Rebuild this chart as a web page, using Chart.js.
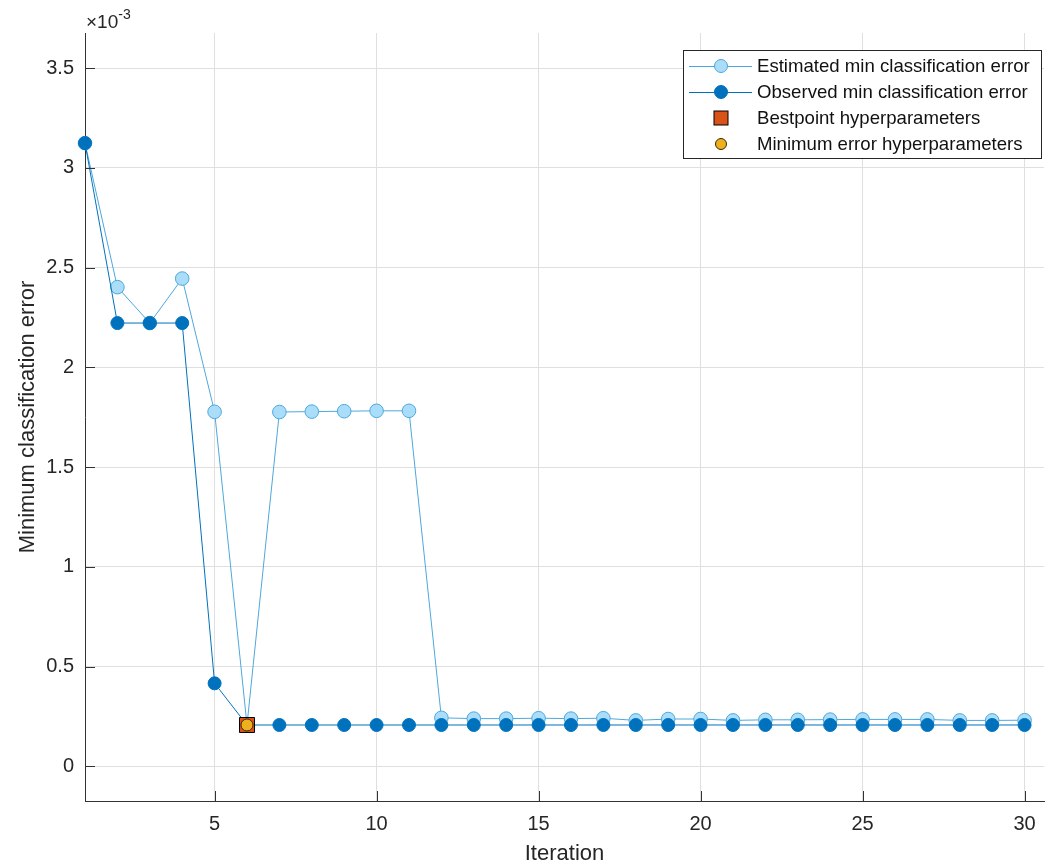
<!DOCTYPE html>
<html>
<head>
<meta charset="utf-8">
<script src="https://cdn.jsdelivr.net/npm/chart.js@4/dist/chart.umd.min.js"></script>
<style>
  html, body { margin: 0; padding: 0; background: #fff; }
</style>
</head>
<body>
<div style="width:1056px;height:868px"><canvas id="myChart" width="1056" height="868"></canvas></div>
<script>
// values in units of 1e-3
var iterations = [1, 2, 3, 4, 5, 6, 7, 8, 9, 10, 11, 12, 13, 14, 15, 16, 17, 18, 19, 20, 21, 22, 23, 24, 25, 26, 27, 28, 29, 30];
var estimatedError = [3.124, 2.402, 2.222, 2.445, 1.777, 0.207, 1.776, 1.778, 1.780, 1.782, 1.782, 0.243, 0.239, 0.239, 0.241, 0.239, 0.241, 0.230, 0.237, 0.237, 0.230, 0.233, 0.233, 0.234, 0.235, 0.235, 0.235, 0.230, 0.230, 0.231];
var observedError = [3.124, 2.222, 2.222, 2.222, 0.416, 0.207, 0.207, 0.207, 0.207, 0.207, 0.207, 0.207, 0.207, 0.207, 0.207, 0.207, 0.207, 0.207, 0.207, 0.207, 0.207, 0.207, 0.207, 0.207, 0.207, 0.207, 0.207, 0.207, 0.207, 0.207];
var bestpointIter = [6];
var bestpointError = [0.207];
var minErrorIter = [6];
var minErrorValue = [0.207];
var xTicks = [5, 10, 15, 20, 25, 30];
var yTicks = [0, 0.5, 1, 1.5, 2, 2.5, 3, 3.5];
var legendLabels = ['Estimated min classification error', 'Observed min classification error', 'Bestpoint hyperparameters', 'Minimum error hyperparameters'];

var FONT = "Arial, 'Liberation Sans', Helvetica, sans-serif";
var axisColor = 'rgb(50,50,50)';
var gridColor = 'rgb(223,223,223)';
var estLine = 'rgb(77,168,220)';
var estFill = 'rgb(170,221,250)';
var obsColor = 'rgb(0,114,189)';
var bestFill = 'rgb(217,83,25)';
var minFill = 'rgb(237,177,32)';

function toXY(xs, ys) {
  return xs.map(function (x, i) { return { x: x, y: ys[i] }; });
}

var extras = {
  id: 'extras',
  afterDraw: function (chart) {
    var ctx = chart.ctx;
    var area = chart.chartArea;
    var xs = chart.scales.x, ys = chart.scales.y;
    ctx.save();
    // inward tick marks
    ctx.strokeStyle = axisColor;
    ctx.lineWidth = 1;
    ctx.beginPath();
    yTicks.forEach(function (v) {
      var py = Math.round(ys.getPixelForValue(v)) + 0.5;
      ctx.moveTo(area.left, py);
      ctx.lineTo(area.left + 10, py);
    });
    xTicks.forEach(function (v) {
      var px = Math.round(xs.getPixelForValue(v)) + 0.5;
      ctx.moveTo(px, area.bottom);
      ctx.lineTo(px, area.bottom - 10);
    });
    ctx.stroke();

    // exponent label
    ctx.fillStyle = 'rgb(38,38,38)';
    ctx.textBaseline = 'alphabetic';
    ctx.textAlign = 'left';
    ctx.font = '19px ' + FONT;
    ctx.fillText('\u00d710', 86, 28);
    var w = ctx.measureText('\u00d710').width;
    ctx.font = '14px ' + FONT;
    ctx.fillText('-3', 86 + w, 19);

    // legend
    var bx = 683.5, by = 50.5, bw = 358, bh = 108;
    ctx.fillStyle = '#fff';
    ctx.fillRect(bx, by, bw, bh);
    ctx.strokeStyle = 'rgb(38,38,38)';
    ctx.strokeRect(bx, by, bw, bh);
    var rows = [66, 92, 118, 144];
    ctx.font = '18.6px ' + FONT;
    ctx.textBaseline = 'middle';
    rows.forEach(function (ry, i) {
      var mx = 721;
      if (i < 2) {
        ctx.strokeStyle = i === 0 ? estLine : obsColor;
        ctx.beginPath();
        ctx.moveTo(689, ry + 0.5);
        ctx.lineTo(752, ry + 0.5);
        ctx.stroke();
        ctx.beginPath();
        ctx.arc(mx, ry, 6.5, 0, Math.PI * 2);
        ctx.fillStyle = i === 0 ? estFill : obsColor;
        ctx.fill();
        ctx.strokeStyle = i === 0 ? estLine : obsColor;
        ctx.stroke();
      } else if (i === 2) {
        ctx.fillStyle = bestFill;
        ctx.fillRect(mx - 7, ry - 7, 14, 14);
        ctx.strokeStyle = '#000';
        ctx.strokeRect(mx - 7, ry - 7, 14, 14);
      } else {
        ctx.beginPath();
        ctx.arc(mx, ry, 5.5, 0, Math.PI * 2);
        ctx.fillStyle = minFill;
        ctx.fill();
        ctx.strokeStyle = 'rgb(60,40,0)';
        ctx.stroke();
      }
      ctx.fillStyle = '#111';
      ctx.fillText(legendLabels[i], 757, ry + 1);
    });
    ctx.restore();
  }
};

var ctx = document.getElementById('myChart').getContext('2d');
var myChart = new Chart(ctx, {
  type: 'line',
  data: {
    datasets: [
      {
        label: legendLabels[0],
        data: toXY(iterations, estimatedError),
        order: 4,
        borderColor: estLine,
        borderWidth: 1,
        backgroundColor: estFill,
        pointBackgroundColor: estFill,
        pointBorderColor: estLine,
        pointBorderWidth: 1,
        pointRadius: 6.8,
        tension: 0,
        clip: false
      },
      {
        label: legendLabels[1],
        data: toXY(iterations, observedError),
        order: 3,
        borderColor: obsColor,
        borderWidth: 1,
        backgroundColor: obsColor,
        pointBackgroundColor: obsColor,
        pointBorderColor: obsColor,
        pointBorderWidth: 1,
        pointRadius: 6.5,
        tension: 0,
        clip: false
      },
      {
        label: legendLabels[2],
        data: toXY(bestpointIter, bestpointError),
        order: 2,
        showLine: false,
        pointStyle: 'rect',
        pointRadius: 10.6,
        pointBackgroundColor: bestFill,
        pointBorderColor: '#000',
        pointBorderWidth: 1,
        clip: false
      },
      {
        label: legendLabels[3],
        data: toXY(minErrorIter, minErrorValue),
        order: 1,
        showLine: false,
        pointRadius: 6,
        pointBackgroundColor: minFill,
        pointBorderColor: 'rgb(60,40,0)',
        pointBorderWidth: 1,
        clip: false
      }
    ]
  },
  options: {
    responsive: false,
    animation: false,
    layout: { padding: { top: 33, right: 12, left: 0, bottom: 0 } },
    plugins: {
      legend: { display: false },
      tooltip: { enabled: false }
    },
    scales: {
      x: {
        type: 'linear',
        min: 1,
        max: 30.6,
        afterFit: function (scale) { scale.height = 67; },
        afterBuildTicks: function (scale) {
          scale.ticks = xTicks.map(function (v) { return { value: v }; });
        },
        grid: { color: gridColor, drawTicks: false },
        border: { color: axisColor, width: 1 },
        ticks: {
          padding: 11,
          color: 'rgb(38,38,38)',
          font: { size: 20, family: FONT },
          maxRotation: 0
        },
        title: {
          display: true,
          text: 'Iteration',
          color: 'rgb(38,38,38)',
          font: { size: 22, family: FONT },
          padding: { top: 0, bottom: 1 }
        }
      },
      y: {
        type: 'linear',
        min: -0.174,
        max: 3.676,
        afterFit: function (scale) { scale.width = 85; },
        afterBuildTicks: function (scale) {
          scale.ticks = yTicks.map(function (v) { return { value: v }; });
        },
        grid: { color: gridColor, drawTicks: false },
        border: { color: axisColor, width: 1 },
        ticks: {
          padding: 11,
          color: 'rgb(38,38,38)',
          font: { size: 20, family: FONT },
          callback: function (v) { return String(v); }
        },
        title: {
          display: true,
          text: 'Minimum classification error',
          color: 'rgb(38,38,38)',
          font: { size: 22, family: FONT },
          padding: { top: 15, bottom: 0 }
        }
      }
    }
  },
  plugins: [extras]
});
</script>
</body>
</html>
